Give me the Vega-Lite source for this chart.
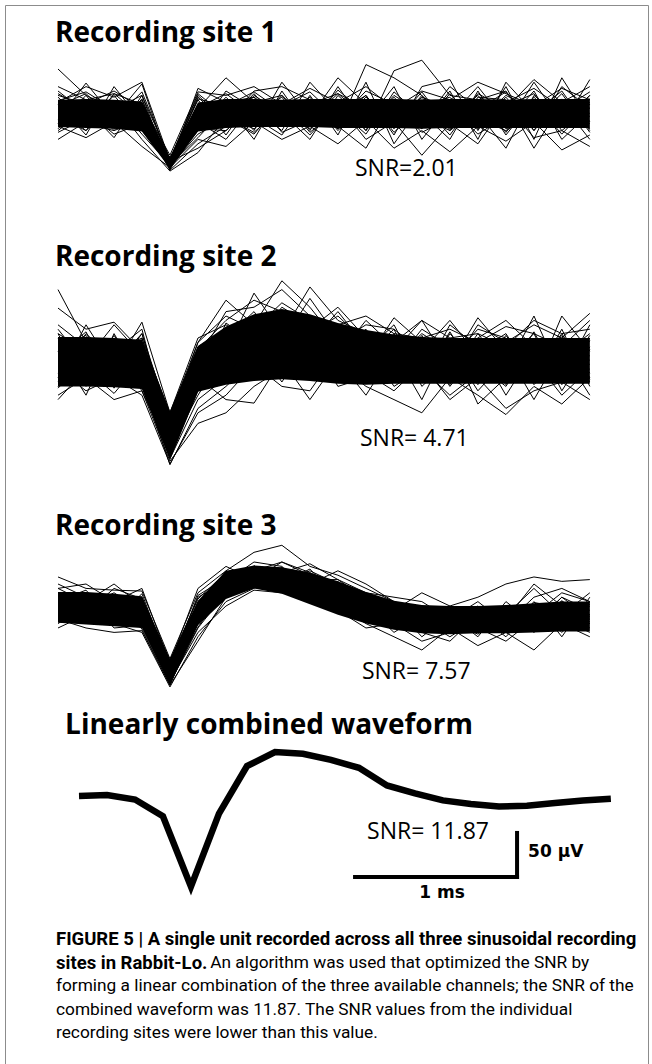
{
  "$schema": "https://vega.github.io/schema/vega-lite/v6.json",
  "width": 643,
  "height": 1075,
  "autosize": "none",
  "padding": {"left": 5, "top": 5, "right": 4, "bottom": 0},
  "background": "white",
  "config": {"view": {"stroke": "#8c8c8c", "strokeWidth": 1}},
  "datasets": {
    "site1core": [
      {"t": [0,0.173,0.346,0.518,0.691,0.864,1.037,1.21,1.382,1.555,1.728,1.901,2.074,2.246,2.419,2.592,2.765,2.938,3.11,3.283],
       "hi": [15,16,15,13,-51,12,16,16,15,16,16,16,16,15,16,16,15,16,16,16],
       "lo": [-16,-17,-18,-21,-63,-21,-17,-16,-16,-16,-17,-17,-17,-18,-17,-17,-17,-17,-17,-17]}
    ],
    "site1": [
      {"id": "a", "t": [0,0.173,0.346,0.518,0.691,0.864,1.037,1.21,1.382,1.555,1.728,1.901,2.074,2.246,2.419,2.592,2.765,2.938,3.11,3.283], "v": [50,20,5,12,-58,10,5,-8,12,3,-10,8,15,-5,2,10,-6,8,0,12]},
      {"id": "b", "t": [0,0.173,0.346,0.518,0.691,0.864,1.037,1.21,1.382,1.555,1.728,1.901,2.074,2.246,2.419,2.592,2.765,2.938,3.11,3.283], "v": [-8,34,-5,33,-60,28,12,18,-4,10,22,5,-12,18,6,-10,20,4,15,-4]},
      {"id": "c", "t": [0,0.173,0.346,0.518,0.691,0.864,1.037,1.21,1.382,1.555,1.728,1.901,2.074,2.246,2.419,2.592,2.765,2.938,3.11,3.283], "v": [10,-25,30,-10,-55,-40,-20,8,-15,5,-8,25,10,-12,30,5,-15,35,-10,20]},
      {"id": "d", "t": [0,0.173,0.346,0.518,0.691,0.864,1.037,1.21,1.382,1.555,1.728,1.901,2.074,2.246,2.419,2.592,2.765,2.938,3.11,3.283], "v": [-20,5,-28,20,-64,5,40,12,20,-10,15,-20,48,60,20,15,25,-20,30,5]},
      {"id": "e", "t": [0,0.173,0.346,0.518,0.691,0.864,1.037,1.21,1.382,1.555,1.728,1.901,2.074,2.246,2.419,2.592,2.765,2.938,3.11,3.283], "v": [5,-20,10,-30,-66,-45,-5,-22,6,-25,10,-30,-10,-48,-12,-35,10,-28,-20,-38]},
      {"id": "f", "t": [0,0.173,0.346,0.518,0.691,0.864,1.037,1.21,1.382,1.555,1.728,1.901,2.074,2.246,2.419,2.592,2.765,2.938,3.11,3.283], "v": [20,10,25,5,-52,20,-10,25,30,15,-18,55,40,20,-20,22,5,38,12,30]},
      {"id": "g", "t": [0,0.173,0.346,0.518,0.691,0.864,1.037,1.21,1.382,1.555,1.728,1.901,2.074,2.246,2.419,2.592,2.765,2.938,3.11,3.283], "v": [-15,-28,-10,-38,-62,-30,-38,-10,-30,-15,-35,-8,-40,-20,-44,-15,-32,-10,-42,-25]},
      {"id": "h", "t": [0,0.173,0.346,0.518,0.691,0.864,1.037,1.21,1.382,1.555,1.728,1.901,2.074,2.246,2.419,2.592,2.765,2.938,3.11,3.283], "v": [30,15,22,10,-48,24,20,30,10,28,12,30,5,25,15,35,22,8,28,15]},
      {"id": "i", "t": [0,0.173,0.346,0.518,0.691,0.864,1.037,1.21,1.382,1.555,1.728,1.901,2.074,2.246,2.419,2.592,2.765,2.938,3.11,3.283], "v": [0,8,-15,0,-58,-15,10,-30,25,-20,30,-15,20,0,-30,25,-25,15,-15,38]},
      {"id": "j", "t": [0,0.173,0.346,0.518,0.691,0.864,1.037,1.21,1.382,1.555,1.728,1.901,2.074,2.246,2.419,2.592,2.765,2.938,3.11,3.283], "v": [-30,-10,5,-20,-60,-20,25,5,-20,35,0,20,-25,30,38,-20,30,-30,40,-10]},
      {"id": "k", "t": [0,0.173,0.346,0.518,0.691,0.864,1.037,1.21,1.382,1.555,1.728,1.901,2.074,2.246,2.419,2.592,2.765,2.938,3.11,3.283], "v": [12,30,18,35,-54,15,-25,20,0,-30,20,-10,30,-30,10,0,-40,20,-5,10]},
      {"id": "l", "t": [0,0.173,0.346,0.518,0.691,0.864,1.037,1.21,1.382,1.555,1.728,1.901,2.074,2.246,2.419,2.592,2.765,2.938,3.11,3.283], "v": [-5,-12,-20,-8,-65,-35,-15,-5,-25,20,-25,35,-35,10,-25,18,15,-40,10,-30]},
      {"id": "m", "t": [0,0.173,0.346,0.518,0.691,0.864,1.037,1.21,1.382,1.555,1.728,1.901,2.074,2.246,2.419,2.592,2.765,2.938,3.11,3.283], "v": [25,0,12,-15,-50,0,15,-20,35,-5,40,10,0,-15,25,-30,35,0,25,-20]},
      {"id": "n", "t": [0,0.173,0.346,0.518,0.691,0.864,1.037,1.21,1.382,1.555,1.728,1.901,2.074,2.246,2.419,2.592,2.765,2.938,3.11,3.283], "v": [-12,20,-18,15,-63,-10,-30,10,-10,0,-15,-40,15,5,-5,30,-10,25,-30,0]},
      {"id": "o", "t": [0,0.173,0.346,0.518,0.691,0.864,1.037,1.21,1.382,1.555,1.728,1.901,2.074,2.246,2.419,2.592,2.765,2.938,3.11,3.283], "v": [18,-12,20,-18,-57,18,-12,22,-15,18,-20,14,-18,20,-12,16,-22,18,-14,20]},
      {"id": "p", "t": [0,0.173,0.346,0.518,0.691,0.864,1.037,1.21,1.382,1.555,1.728,1.901,2.074,2.246,2.419,2.592,2.765,2.938,3.11,3.283], "v": [-18,14,-20,16,-61,-16,18,-14,20,-18,16,-20,18,-16,22,-14,18,-20,16,-18]},
      {"id": "q", "t": [0,0.173,0.346,0.518,0.691,0.864,1.037,1.21,1.382,1.555,1.728,1.901,2.074,2.246,2.419,2.592,2.765,2.938,3.11,3.283], "v": [8,22,-8,24,-53,22,-4,-18,8,24,-6,20,-22,8,18,-18,8,22,-20,6]},
      {"id": "r", "t": [0,0.173,0.346,0.518,0.691,0.864,1.037,1.21,1.382,1.555,1.728,1.901,2.074,2.246,2.419,2.592,2.765,2.938,3.11,3.283], "v": [-22,-6,12,-24,-59,-28,6,18,-22,-8,22,-6,10,-22,-6,20,-18,-8,22,-22]},
      {"id": "s", "t": [0,0.173,0.346,0.518,0.691,0.864,1.037,1.21,1.382,1.555,1.728,1.901,2.074,2.246,2.419,2.592,2.765,2.938,3.11,3.283], "v": [22,4,-14,6,-56,6,22,-2,18,-22,4,-24,24,-4,-20,4,24,-14,4,24]},
      {"id": "t", "t": [0,0.173,0.346,0.518,0.691,0.864,1.037,1.21,1.382,1.555,1.728,1.901,2.074,2.246,2.419,2.592,2.765,2.938,3.11,3.283], "v": [-4,-20,22,-4,-64,-18,-20,8,-6,12,-12,18,-8,16,8,-24,-4,12,-24,10]},
      {"id": "u", "t": [0,0.173,0.346,0.518,0.691,0.864,1.037,1.21,1.382,1.555,1.728,1.901,2.074,2.246,2.419,2.592,2.765,2.938,3.11,3.283], "v": [14,24,4,20,-52,16,8,24,2,-12,26,0,-12,24,-18,8,12,28,6,-12]},
      {"id": "w", "t": [0,0.173,0.346,0.518,0.691,0.864,1.037,1.21,1.382,1.555,1.728,1.901,2.074,2.246,2.419,2.592,2.765,2.938,3.11,3.283], "v": [-16,2,-24,-12,-60,-24,-6,-24,14,6,-18,8,6,-18,14,-6,-20,-2,12,16]}
    ],
    "site2core": [
      {"t": [0,0.173,0.346,0.518,0.691,0.864,1.037,1.21,1.382,1.555,1.728,1.901,2.074,2.246,2.419,2.592,2.765,2.938,3.11,3.283],
       "hi": [26,26,25,23,-58,16,38,52,58,52,42,34,29,26,25,25,25,25,25,25],
       "lo": [-30,-30,-31,-33,-114,-36,-28,-24,-22,-24,-27,-28,-27,-27,-27,-27,-27,-27,-27,-27]}
    ],
    "site2": [
      {"id": "a", "t": [0,0.173,0.346,0.518,0.691,0.864,1.037,1.21,1.382,1.555,1.728,1.901,2.074,2.246,2.419,2.592,2.765,2.938,3.11,3.283], "v": [80,20,10,35,-85,10,30,45,40,20,55,15,0,30,10,25,45,15,5,30]},
      {"id": "b", "t": [0,0.173,0.346,0.518,0.691,0.864,1.037,1.21,1.382,1.555,1.728,1.901,2.074,2.246,2.419,2.592,2.765,2.938,3.11,3.283], "v": [59,35,43,10,-70,20,68,40,90,60,20,40,35,10,45,5,20,40,25,53]},
      {"id": "c", "t": [0,0.173,0.346,0.518,0.691,0.864,1.037,1.21,1.382,1.555,1.728,1.901,2.074,2.246,2.419,2.592,2.765,2.938,3.11,3.283], "v": [-40,-20,-45,-35,-115,-72,-60,-30,-10,-20,-5,-30,-45,-60,-20,-40,-62,-30,-50,-20]},
      {"id": "d", "t": [0,0.173,0.346,0.518,0.691,0.864,1.037,1.21,1.382,1.555,1.728,1.901,2.074,2.246,2.419,2.592,2.765,2.938,3.11,3.283], "v": [30,-30,20,-10,-100,-40,10,76,30,83,45,30,-20,5,-15,30,-10,50,-20,40]},
      {"id": "e", "t": [0,0.173,0.346,0.518,0.691,0.864,1.037,1.21,1.382,1.555,1.728,1.901,2.074,2.246,2.419,2.592,2.765,2.938,3.11,3.283], "v": [-20,40,-10,43,-60,25,40,20,60,40,30,-10,20,45,-5,48,10,-25,50,10]},
      {"id": "f", "t": [0,0.173,0.346,0.518,0.691,0.864,1.037,1.21,1.382,1.555,1.728,1.901,2.074,2.246,2.419,2.592,2.765,2.938,3.11,3.283], "v": [10,-40,30,-25,-119,-55,-30,0,-20,10,-15,20,-30,-10,-40,-15,10,-45,10,-40]},
      {"id": "g", "t": [0,0.173,0.346,0.518,0.691,0.864,1.037,1.21,1.382,1.555,1.728,1.901,2.074,2.246,2.419,2.592,2.765,2.938,3.11,3.283], "v": [-45,-10,-38,0,-95,-20,-45,-49,0,-45,0,-40,10,-45,20,-50,-20,0,-40,-10]},
      {"id": "h", "t": [0,0.173,0.346,0.518,0.691,0.864,1.037,1.21,1.382,1.555,1.728,1.901,2.074,2.246,2.419,2.592,2.765,2.938,3.11,3.283], "v": [20,25,-5,30,-80,0,55,60,80,50,40,50,30,25,35,20,38,30,15,45]},
      {"id": "i", "t": [0,0.173,0.346,0.518,0.691,0.864,1.037,1.21,1.382,1.555,1.728,1.901,2.074,2.246,2.419,2.592,2.765,2.938,3.11,3.283], "v": [0,-15,15,-30,-110,-35,-10,30,10,40,5,45,15,-25,30,-5,-30,20,-10,0]},
      {"id": "j", "t": [0,0.173,0.346,0.518,0.691,0.864,1.037,1.21,1.382,1.555,1.728,1.901,2.074,2.246,2.419,2.592,2.765,2.938,3.11,3.283], "v": [-30,10,-25,20,-75,5,20,-10,45,-5,30,0,48,20,-30,10,30,-20,35,-30]},
      {"id": "k", "t": [0,0.173,0.346,0.518,0.691,0.864,1.037,1.21,1.382,1.555,1.728,1.901,2.074,2.246,2.419,2.592,2.765,2.938,3.11,3.283], "v": [35,-5,25,-15,-105,-25,0,20,-25,25,-30,-20,-5,35,15,-35,0,30,-35,15]},
      {"id": "l", "t": [0,0.173,0.346,0.518,0.691,0.864,1.037,1.21,1.382,1.555,1.728,1.901,2.074,2.246,2.419,2.592,2.765,2.938,3.11,3.283], "v": [-15,30,0,10,-65,15,35,50,20,70,25,10,40,-20,40,15,-40,10,25,-15]},
      {"id": "m", "t": [0,0.173,0.346,0.518,0.691,0.864,1.037,1.21,1.382,1.555,1.728,1.901,2.074,2.246,2.419,2.592,2.765,2.938,3.11,3.283], "v": [15,0,40,5,-90,-10,25,-20,35,0,-25,30,-15,10,-10,40,20,-10,0,25]},
      {"id": "n", "t": [0,0.173,0.346,0.518,0.691,0.864,1.037,1.21,1.382,1.555,1.728,1.901,2.074,2.246,2.419,2.592,2.765,2.938,3.11,3.283], "v": [-10,-35,-20,-40,-118,-60,-40,-5,-30,-35,10,-15,-35,-5,-45,-20,-55,-35,-25,-45]},
      {"id": "o", "t": [0,0.173,0.346,0.518,0.691,0.864,1.037,1.21,1.382,1.555,1.728,1.901,2.074,2.246,2.419,2.592,2.765,2.938,3.11,3.283], "v": [40,15,10,25,-85,12,45,68,55,35,60,25,10,45,25,30,15,45,30,35]},
      {"id": "p", "t": [0,0.173,0.346,0.518,0.691,0.864,1.037,1.21,1.382,1.555,1.728,1.901,2.074,2.246,2.419,2.592,2.765,2.938,3.11,3.283], "v": [-25,5,-30,-20,-100,-30,5,10,-10,15,-10,5,-25,0,5,-10,5,-5,-15,5]},
      {"id": "q", "t": [0,0.173,0.346,0.518,0.691,0.864,1.037,1.21,1.382,1.555,1.728,1.901,2.074,2.246,2.419,2.592,2.765,2.938,3.11,3.283], "v": [25,-20,28,-22,-92,-22,35,5,45,0,38,-12,30,-18,25,-20,22,-24,20,-22]},
      {"id": "r", "t": [0,0.173,0.346,0.518,0.691,0.864,1.037,1.21,1.382,1.555,1.728,1.901,2.074,2.246,2.419,2.592,2.765,2.938,3.11,3.283], "v": [-25,22,-28,18,-110,8,-5,45,5,48,-8,32,-18,28,-20,25,-22,20,-25,22]},
      {"id": "s", "t": [0,0.173,0.346,0.518,0.691,0.864,1.037,1.21,1.382,1.555,1.728,1.901,2.074,2.246,2.419,2.592,2.765,2.938,3.11,3.283], "v": [12,28,-15,30,-68,-30,42,20,52,15,35,-15,25,-20,32,-18,28,-15,30,-20]},
      {"id": "t", "t": [0,0.173,0.346,0.518,0.691,0.864,1.037,1.21,1.382,1.555,1.728,1.901,2.074,2.246,2.419,2.592,2.765,2.938,3.11,3.283], "v": [-30,-5,22,-30,-98,15,-10,30,15,35,5,25,-25,18,-22,15,-28,25,-20,28]},
      {"id": "u", "t": [0,0.173,0.346,0.518,0.691,0.864,1.037,1.21,1.382,1.555,1.728,1.901,2.074,2.246,2.419,2.592,2.765,2.938,3.11,3.283], "v": [30,10,-25,5,-78,-15,25,55,10,30,50,20,5,-25,10,-28,15,-22,-15,25]},
      {"id": "w", "t": [0,0.173,0.346,0.518,0.691,0.864,1.037,1.21,1.382,1.555,1.728,1.901,2.074,2.246,2.419,2.592,2.765,2.938,3.11,3.283], "v": [-10,-28,5,-10,-112,-45,-20,15,35,-10,25,-25,22,15,-28,22,-25,-10,28,-25]},
      {"id": "x", "t": [0,0.173,0.346,0.518,0.691,0.864,1.037,1.21,1.382,1.555,1.728,1.901,2.074,2.246,2.419,2.592,2.765,2.938,3.11,3.283], "v": [5,32,-32,25,-62,20,50,35,65,45,10,35,-10,25,20,-22,-18,32,-28,12]},
      {"id": "y", "t": [0,0.173,0.346,0.518,0.691,0.864,1.037,1.21,1.382,1.555,1.728,1.901,2.074,2.246,2.419,2.592,2.765,2.938,3.11,3.283], "v": [-32,0,18,-35,-104,-20,12,-15,25,20,-20,5,35,-30,0,35,25,-28,5,-5]}
    ],
    "site3core": [
      {"t": [0,0.173,0.346,0.518,0.691,0.864,1.037,1.21,1.382,1.555,1.728,1.901,2.074,2.246,2.419,2.592,2.765,2.938,3.11,3.283],
       "hi": [16,16,14,11,-60,6,40,46,44,38,28,16,6,1,0,0,1,3,5,5],
       "lo": [-19,-21,-23,-25,-90,-22,8,20,14,2,-10,-20,-27,-31,-32,-31,-31,-30,-29,-29]}
    ],
    "site3": [
      {"id": "a", "t": [0,0.173,0.346,0.518,0.691,0.864,1.037,1.21,1.382,1.555,1.728,1.901,2.074,2.246,2.419,2.592,2.765,2.938,3.11,3.283], "v": [33,20,18,17,-60,15,40,61,69,45,35,20,5,-5,0,10,25,33,28,30]},
      {"id": "b", "t": [0,0.173,0.346,0.518,0.691,0.864,1.037,1.21,1.382,1.555,1.728,1.901,2.074,2.246,2.419,2.592,2.765,2.938,3.11,3.283], "v": [-15,-25,-30,-28,-90,-40,10,25,20,15,0,-20,-35,-50,-25,-45,-30,-50,-20,-35]},
      {"id": "c", "t": [0,0.173,0.346,0.518,0.691,0.864,1.037,1.21,1.382,1.555,1.728,1.901,2.074,2.246,2.419,2.592,2.765,2.938,3.11,3.283], "v": [10,0,15,-5,-70,0,30,40,50,38,20,5,-10,-20,-5,-25,0,-15,5,-10]},
      {"id": "d", "t": [0,0.173,0.346,0.518,0.691,0.864,1.037,1.21,1.382,1.555,1.728,1.901,2.074,2.246,2.419,2.592,2.765,2.938,3.11,3.283], "v": [0,15,-10,10,-80,-20,20,35,25,40,25,10,0,-30,-40,-10,-35,0,-30,0]},
      {"id": "e", "t": [0,0.173,0.346,0.518,0.691,0.864,1.037,1.21,1.382,1.555,1.728,1.901,2.074,2.246,2.419,2.592,2.765,2.938,3.11,3.283], "v": [-25,-10,-20,-30,-92,-35,5,20,35,20,5,-15,-25,-10,-30,-20,-10,-30,-5,-20]},
      {"id": "f", "t": [0,0.173,0.346,0.518,0.691,0.864,1.037,1.21,1.382,1.555,1.728,1.901,2.074,2.246,2.419,2.592,2.765,2.938,3.11,3.283], "v": [20,25,5,20,-65,20,45,30,40,30,30,15,10,5,-15,5,-20,10,20,5]},
      {"id": "g", "t": [0,0.173,0.346,0.518,0.691,0.864,1.037,1.21,1.382,1.555,1.728,1.901,2.074,2.246,2.419,2.592,2.765,2.938,3.11,3.283], "v": [-5,-20,5,-15,-85,-10,25,45,28,20,10,0,-20,-15,-35,-15,-5,-25,-15,-30]},
      {"id": "h", "t": [0,0.173,0.346,0.518,0.691,0.864,1.037,1.21,1.382,1.555,1.728,1.901,2.074,2.246,2.419,2.592,2.765,2.938,3.11,3.283], "v": [15,5,25,0,-75,5,35,30,50,35,15,-5,-5,15,0,-30,-10,20,-10,15]},
      {"id": "i", "t": [0,0.173,0.346,0.518,0.691,0.864,1.037,1.21,1.382,1.555,1.728,1.901,2.074,2.246,2.419,2.592,2.765,2.938,3.11,3.283], "v": [-20,0,-15,-10,-88,-25,15,38,20,28,22,15,-15,-25,-20,0,-25,-5,-25,-15]},
      {"id": "j", "t": [0,0.173,0.346,0.518,0.691,0.864,1.037,1.21,1.382,1.555,1.728,1.901,2.074,2.246,2.419,2.592,2.765,2.938,3.11,3.283], "v": [5,-15,0,10,-68,10,28,50,45,15,10,-10,0,-35,-10,-35,5,-20,10,-5]},
      {"id": "k", "t": [0,0.173,0.346,0.518,0.691,0.864,1.037,1.21,1.382,1.555,1.728,1.901,2.074,2.246,2.419,2.592,2.765,2.938,3.11,3.283], "v": [25,10,-5,5,-78,-5,20,28,38,48,30,8,-15,0,-25,-5,-30,5,-35,10]},
      {"id": "l", "t": [0,0.173,0.346,0.518,0.691,0.864,1.037,1.21,1.382,1.555,1.728,1.901,2.074,2.246,2.419,2.592,2.765,2.938,3.11,3.283], "v": [-10,10,10,-20,-82,-15,35,42,30,25,40,25,5,-20,-10,-20,-15,25,0,-25]},
      {"id": "m", "t": [0,0.173,0.346,0.518,0.691,0.864,1.037,1.21,1.382,1.555,1.728,1.901,2.074,2.246,2.419,2.592,2.765,2.938,3.11,3.283], "v": [8,-8,20,8,-72,0,40,25,35,30,18,0,-30,-10,-20,-10,-20,-10,15,5]},
      {"id": "n", "t": [0,0.173,0.346,0.518,0.691,0.864,1.037,1.21,1.382,1.555,1.728,1.901,2.074,2.246,2.419,2.592,2.765,2.938,3.11,3.283], "v": [-12,12,-25,-22,-86,-30,0,18,15,10,-5,-25,-20,-40,-30,-25,-40,-15,-20,-10]},
      {"id": "o", "t": [0,0.173,0.346,0.518,0.691,0.864,1.037,1.21,1.382,1.555,1.728,1.901,2.074,2.246,2.419,2.592,2.765,2.938,3.11,3.283], "v": [15,-12,12,-20,-62,8,38,22,44,18,28,-10,4,-24,-2,-26,0,-20,6,-18]},
      {"id": "p", "t": [0,0.173,0.346,0.518,0.691,0.864,1.037,1.21,1.382,1.555,1.728,1.901,2.074,2.246,2.419,2.592,2.765,2.938,3.11,3.283], "v": [-14,12,-16,8,-88,-20,14,46,20,36,2,14,-20,-2,-28,-2,-24,2,-18,4]},
      {"id": "q", "t": [0,0.173,0.346,0.518,0.691,0.864,1.037,1.21,1.382,1.555,1.728,1.901,2.074,2.246,2.419,2.592,2.765,2.938,3.11,3.283], "v": [6,18,-18,14,-70,12,32,28,26,42,8,-12,-18,-24,-6,-20,-18,-14,-22,2]},
      {"id": "r", "t": [0,0.173,0.346,0.518,0.691,0.864,1.037,1.21,1.382,1.555,1.728,1.901,2.074,2.246,2.419,2.592,2.765,2.938,3.11,3.283], "v": [-8,-16,10,-14,-84,-24,20,40,40,14,24,8,2,-6,-26,-6,-28,4,-2,-20]},
      {"id": "s", "t": [0,0.173,0.346,0.518,0.691,0.864,1.037,1.21,1.382,1.555,1.728,1.901,2.074,2.246,2.419,2.592,2.765,2.938,3.11,3.283], "v": [20,4,-6,2,-66,2,36,36,32,24,0,-18,-10,-30,-12,-24,-4,-22,10,-14]},
      {"id": "t", "t": [0,0.173,0.346,0.518,0.691,0.864,1.037,1.21,1.382,1.555,1.728,1.901,2.074,2.246,2.419,2.592,2.765,2.938,3.11,3.283], "v": [-18,-4,2,-26,-90,-16,10,32,22,30,20,12,-24,-16,-18,-32,-10,-6,-16,-12]}
    ],
    "combined": [
      {"t": [0,0.173,0.346,0.518,0.691,0.864,1.037,1.21,1.382,1.555,1.728,1.901,2.074,2.246,2.419,2.592,2.765,2.938,3.11,3.283],
       "v": [0,1,-4,-23,-103,-20,34,50,48,41,32,12,3,-5,-9,-12,-11,-8,-5,-3]}
    ]
  },
  "resolve": {"scale": {"x": "independent", "y": "independent"}},
  "layer": [
    {
      "layer": [
        {"data": {"name": "site1core"}, "transform": [{"flatten": ["t", "hi", "lo"]}],
         "mark": {"type": "area", "color": "black"},
         "encoding": {"x": {"field": "t", "type": "quantitative", "scale": {"domain": [-0.3272, 3.642], "nice": false, "zero": false}, "axis": null},
                      "y": {"field": "hi", "type": "quantitative", "scale": {"domain": [-1098.86, 122.73], "nice": false, "zero": false}, "axis": null},
                      "y2": {"field": "lo"}}},
        {"data": {"name": "site1"}, "transform": [{"flatten": ["t", "v"]}],
         "mark": {"type": "line", "color": "black", "strokeWidth": 1},
         "encoding": {"x": {"field": "t", "type": "quantitative", "scale": {"domain": [-0.3272, 3.642], "nice": false, "zero": false}, "axis": null},
                      "y": {"field": "v", "type": "quantitative", "scale": {"domain": [-1098.86, 122.73], "nice": false, "zero": false}, "axis": null},
                      "detail": {"field": "id"}}},
        {"data": {"values": [{}]},
         "mark": {"type": "text", "text": "Recording site 1", "align": "left", "baseline": "middle", "font": "Open Sans", "fontWeight": "bold", "fontSize": 28, "color": "black"},
         "encoding": {"x": {"datum": -0.019, "type": "quantitative"}, "y": {"datum": 89.8, "type": "quantitative"}}},
        {"data": {"values": [{}]},
         "mark": {"type": "text", "text": "SNR=2.01", "align": "left", "baseline": "middle", "font": "Open Sans", "fontSize": 23, "color": "black"},
         "encoding": {"x": {"datum": 1.833, "type": "quantitative"}, "y": {"datum": -63.5, "type": "quantitative"}}}
      ]
    },
    {
      "layer": [
        {"data": {"name": "site2core"}, "transform": [{"flatten": ["t", "hi", "lo"]}],
         "mark": {"type": "area", "color": "black"},
         "encoding": {"x": {"field": "t", "type": "quantitative", "scale": {"domain": [-0.3272, 3.642], "nice": false, "zero": false}, "axis": null},
                      "y": {"field": "hi", "type": "quantitative", "scale": {"domain": [-818.18, 403.41], "nice": false, "zero": false}, "axis": null},
                      "y2": {"field": "lo"}}},
        {"data": {"name": "site2"}, "transform": [{"flatten": ["t", "v"]}],
         "mark": {"type": "line", "color": "black", "strokeWidth": 1},
         "encoding": {"x": {"field": "t", "type": "quantitative", "scale": {"domain": [-0.3272, 3.642], "nice": false, "zero": false}, "axis": null},
                      "y": {"field": "v", "type": "quantitative", "scale": {"domain": [-818.18, 403.41], "nice": false, "zero": false}, "axis": null},
                      "detail": {"field": "id"}}},
        {"data": {"values": [{}]},
         "mark": {"type": "text", "text": "Recording site 2", "align": "left", "baseline": "middle", "font": "Open Sans", "fontWeight": "bold", "fontSize": 28, "color": "black"},
         "encoding": {"x": {"datum": -0.019, "type": "quantitative"}, "y": {"datum": 115.9, "type": "quantitative"}}},
        {"data": {"values": [{}]},
         "mark": {"type": "text", "text": "SNR= 4.71", "align": "left", "baseline": "middle", "font": "Open Sans", "fontSize": 23, "color": "black"},
         "encoding": {"x": {"datum": 1.864, "type": "quantitative"}, "y": {"datum": -89.8, "type": "quantitative"}}}
      ]
    },
    {
      "layer": [
        {"data": {"name": "site3core"}, "transform": [{"flatten": ["t", "hi", "lo"]}],
         "mark": {"type": "area", "color": "black"},
         "encoding": {"x": {"field": "t", "type": "quantitative", "scale": {"domain": [-0.3272, 3.642], "nice": false, "zero": false}, "axis": null},
                      "y": {"field": "hi", "type": "quantitative", "scale": {"domain": [-538.64, 682.95], "nice": false, "zero": false}, "axis": null},
                      "y2": {"field": "lo"}}},
        {"data": {"name": "site3"}, "transform": [{"flatten": ["t", "v"]}],
         "mark": {"type": "line", "color": "black", "strokeWidth": 1},
         "encoding": {"x": {"field": "t", "type": "quantitative", "scale": {"domain": [-0.3272, 3.642], "nice": false, "zero": false}, "axis": null},
                      "y": {"field": "v", "type": "quantitative", "scale": {"domain": [-538.64, 682.95], "nice": false, "zero": false}, "axis": null},
                      "detail": {"field": "id"}}},
        {"data": {"values": [{}]},
         "mark": {"type": "text", "text": "Recording site 3", "align": "left", "baseline": "middle", "font": "Open Sans", "fontWeight": "bold", "fontSize": 28, "color": "black"},
         "encoding": {"x": {"datum": -0.019, "type": "quantitative"}, "y": {"datum": 89.8, "type": "quantitative"}}},
        {"data": {"values": [{}]},
         "mark": {"type": "text", "text": "SNR= 7.57", "align": "left", "baseline": "middle", "font": "Open Sans", "fontSize": 23, "color": "black"},
         "encoding": {"x": {"datum": 1.876, "type": "quantitative"}, "y": {"datum": -75, "type": "quantitative"}}}
      ]
    },
    {
      "layer": [
        {"data": {"name": "combined"}, "transform": [{"flatten": ["t", "v"]}],
         "mark": {"type": "line", "color": "black", "strokeWidth": 6.5},
         "encoding": {"x": {"field": "t", "type": "quantitative", "scale": {"domain": [-0.4568, 3.5123], "nice": false, "zero": false}, "axis": null},
                      "y": {"field": "v", "type": "quantitative", "scale": {"domain": [-322.73, 898.86], "nice": false, "zero": false}, "axis": null}}},
        {"data": {"values": [{}]},
         "mark": {"type": "rule", "color": "black", "strokeWidth": 4, "strokeCap": "square"},
         "encoding": {"x": {"datum": 1.704, "type": "quantitative"}, "x2": {"datum": 2.704}, "y": {"datum": -92, "type": "quantitative"}}},
        {"data": {"values": [{}]},
         "mark": {"type": "rule", "color": "black", "strokeWidth": 4, "strokeCap": "square"},
         "encoding": {"x": {"datum": 2.704, "type": "quantitative"}, "y": {"datum": -92, "type": "quantitative"}, "y2": {"datum": -42}}},
        {"data": {"values": [{}]},
         "mark": {"type": "text", "text": "Linearly combined waveform", "align": "left", "baseline": "middle", "font": "Open Sans", "fontWeight": "bold", "fontSize": 28, "color": "black"},
         "encoding": {"x": {"datum": -0.086, "type": "quantitative"}, "y": {"datum": 79.5, "type": "quantitative"}}},
        {"data": {"values": [{}]},
         "mark": {"type": "text", "text": "SNR= 11.87", "align": "left", "baseline": "middle", "font": "Open Sans", "fontSize": 23, "color": "black"},
         "encoding": {"x": {"datum": 1.778, "type": "quantitative"}, "y": {"datum": -40.9, "type": "quantitative"}}},
        {"data": {"values": [{}]},
         "mark": {"type": "text", "text": "50 µV", "align": "left", "baseline": "middle", "font": "DejaVu Sans", "fontWeight": "bold", "fontSize": 17, "color": "black"},
         "encoding": {"x": {"datum": 2.772, "type": "quantitative"}, "y": {"datum": -63.6, "type": "quantitative"}}},
        {"data": {"values": [{}]},
         "mark": {"type": "text", "text": "1 ms", "align": "center", "baseline": "middle", "font": "DejaVu Sans", "fontWeight": "bold", "fontSize": 17, "color": "black"},
         "encoding": {"x": {"datum": 2.241, "type": "quantitative"}, "y": {"datum": -110, "type": "quantitative"}}},
        {"data": {"values": [{}]},
         "mark": {"type": "text", "text": "FIGURE 5 | A single unit recorded across all three sinusoidal recording", "align": "left", "baseline": "middle", "font": "Roboto", "fontWeight": "bold", "fontSize": 18.5, "color": "black"},
         "encoding": {"x": {"datum": -0.142, "type": "quantitative"}, "y": {"datum": -162.5, "type": "quantitative"}}},
        {"data": {"values": [{}]},
         "mark": {"type": "text", "text": "sites in Rabbit-Lo.", "align": "left", "baseline": "middle", "font": "Roboto", "fontWeight": "bold", "fontSize": 18.5, "color": "black"},
         "encoding": {"x": {"datum": -0.142, "type": "quantitative"}, "y": {"datum": -189.8, "type": "quantitative"}}},
        {"data": {"values": [{}]},
         "mark": {"type": "text", "text": "An algorithm was used that optimized the SNR by", "align": "left", "baseline": "middle", "font": "Roboto", "fontSize": 17.3, "color": "black"},
         "encoding": {"x": {"datum": 0.81, "type": "quantitative"}, "y": {"datum": -189.8, "type": "quantitative"}}},
        {"data": {"values": [{}]},
         "mark": {"type": "text", "text": "forming a linear combination of the three available channels; the SNR of the", "align": "left", "baseline": "middle", "font": "Roboto", "fontSize": 17.3, "color": "black"},
         "encoding": {"x": {"datum": -0.142, "type": "quantitative"}, "y": {"datum": -215.9, "type": "quantitative"}}},
        {"data": {"values": [{}]},
         "mark": {"type": "text", "text": "combined waveform was 11.87. The SNR values from the individual", "align": "left", "baseline": "middle", "font": "Roboto", "fontSize": 17.3, "color": "black"},
         "encoding": {"x": {"datum": -0.142, "type": "quantitative"}, "y": {"datum": -243.2, "type": "quantitative"}}},
        {"data": {"values": [{}]},
         "mark": {"type": "text", "text": "recording sites were lower than this value.", "align": "left", "baseline": "middle", "font": "Roboto", "fontSize": 17.3, "color": "black"},
         "encoding": {"x": {"datum": -0.142, "type": "quantitative"}, "y": {"datum": -269.3, "type": "quantitative"}}}
      ]
    }
  ]
}
